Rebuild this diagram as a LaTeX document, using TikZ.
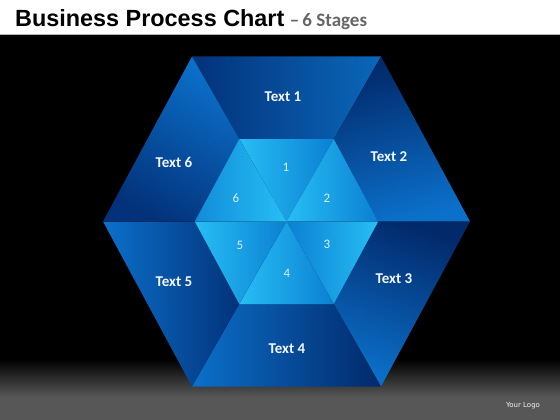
\documentclass[tikz,border=0pt]{standalone}
\usepackage{fontspec}
\setmainfont{Carlito}
\newfontfamily\titlefont{Liberation Sans}
\newfontfamily\logofont{DejaVu Sans}
\definecolor{navy}{HTML}{03327A}
\definecolor{dnavy}{HTML}{02296A}
\definecolor{mblue}{HTML}{0B70CA}
\definecolor{cyanL}{HTML}{27BEF5}
\definecolor{cyanM}{HTML}{0B80D2}
\definecolor{bggray}{HTML}{575757}
\definecolor{txtw}{HTML}{F2F6FF}
\definecolor{numc}{HTML}{D8F2FF}
\tikzset{
  panellabel/.style={font=\bfseries\fontsize{15}{16}\selectfont, text=txtw, inner sep=0pt},
  numlabel/.style={font=\fontsize{13}{14}\selectfont, text=numc, inner sep=0pt},
}
\begin{document}
\begin{tikzpicture}[x=1pt,y=-1pt]
\useasboundingbox (0,0) rectangle (560,420);
% background
\fill[white] (0,0) rectangle (560,35);
\fill[black] (0,35) rectangle (560,360);
\shade[top color=black, bottom color=bggray] (0,359) rectangle (560,397);
\fill[bggray] (0,396.5) rectangle (560,420);
\draw[gray!60, line width=1.2pt] (0,34.4) -- (560,34.4);
% title
\node[anchor=base west, inner sep=0pt, font=\titlefont\bfseries\fontsize{23.4}{26}\selectfont, text=black] (title) at (15,27) {Business Process Chart};
\node[anchor=base west, inner sep=0pt, font=\bfseries\fontsize{19}{20}\selectfont, text=black!60] (sub) at ([xshift=5pt]title.base east) {–\,6 Stages};
% geometry
\coordinate (C) at (286.5,221.5);
\coordinate (O1) at (192,56.5);
\coordinate (O2) at (381,56.5);
\coordinate (O3) at (470,221.5);
\coordinate (O4) at (381,386.5);
\coordinate (O5) at (192,386.5);
\coordinate (O6) at (103,221.5);
\coordinate (I1) at (239.25,139);
\coordinate (I2) at (333.75,139);
\coordinate (I3) at (378.25,221.5);
\coordinate (I4) at (333.75,304);
\coordinate (I5) at (239.25,304);
\coordinate (I6) at (194.75,221.5);
% outer panels
\shade[left color=navy, right color=mblue!92!black] (O1) -- (O2) -- (I2) -- (I1) -- cycle;
\shade[top color=dnavy, bottom color=mblue, shading angle=15] (O2) -- (O3) -- (I3) -- (I2) -- cycle;
\shade[top color=dnavy, bottom color=mblue, shading angle=-20] (O3) -- (O4) -- (I4) -- (I3) -- cycle;
\shade[left color=mblue, right color=dnavy] (O4) -- (O5) -- (I5) -- (I4) -- cycle;
\shade[left color=mblue, right color=navy] (O5) -- (O6) -- (I6) -- (I5) -- cycle;
\shade[top color=mblue, bottom color=navy, shading angle=-30] (O6) -- (O1) -- (I1) -- (I6) -- cycle;
% inner triangles
\shade[left color=cyanL, right color=cyanM] (I1) -- (I2) -- (C) -- cycle;
\shade[left color=cyanL, right color=cyanM] (I2) -- (I3) -- (C) -- cycle;
\shade[left color=cyanM, right color=cyanL] (I3) -- (I4) -- (C) -- cycle;
\shade[left color=cyanL, right color=cyanM] (I4) -- (I5) -- (C) -- cycle;
\shade[left color=cyanL, right color=cyanM] (I5) -- (I6) -- (C) -- cycle;
\shade[left color=cyanM!80!cyanL, right color=cyanL] (I6) -- (I1) -- (C) -- cycle;
% panel labels
\node[panellabel] (t1) at (283,97) {Text 1};
\node[panellabel] (t2) at (389,157) {Text 2};
\node[panellabel] (t3) at (394,279) {Text 3};
\node[panellabel] (t4) at (287,349) {Text 4};
\node[panellabel] (t5) at (174,282) {Text 5};
\node[panellabel] (t6) at (174,162) {Text 6};
% numbers
\node[numlabel] (n1) at (286,167) {1};
\node[numlabel] (n2) at (327,198) {2};
\node[numlabel] (n3) at (327,244) {3};
\node[numlabel] (n4) at (287,273) {4};
\node[numlabel] (n5) at (240,245) {5};
\node[numlabel] (n6) at (236,198) {6};
% logo
\node[inner sep=0pt, font=\logofont\fontsize{7}{8}\selectfont, text=white!90!gray] (logo) at (523,406) {Your Logo};
\end{tikzpicture}
\end{document}
